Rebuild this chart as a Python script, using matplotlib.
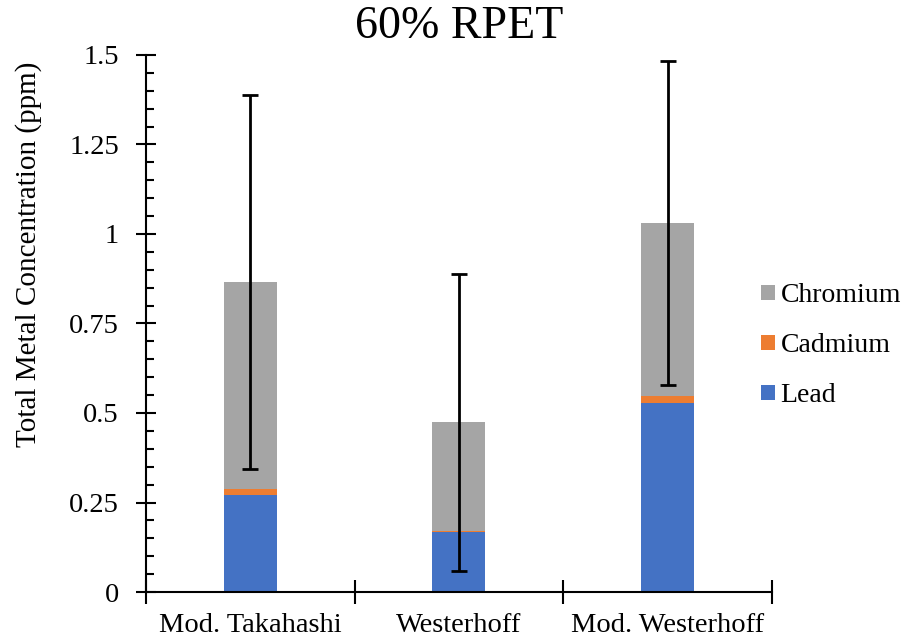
import matplotlib.pyplot as plt
import numpy as np

plt.rcParams['font.family'] = ['Liberation Serif', 'DejaVu Serif']

methods = ['Mod. Takahashi', 'Westerhoff', 'Mod. Westerhoff']
lead = [0.271, 0.167, 0.527]
cadmium = [0.016, 0.003, 0.021]
chromium = [0.578, 0.304, 0.482]
total_err = [0.522, 0.415, 0.453]

x = np.arange(len(methods))
width = 0.254

fig = plt.figure(figsize=(9.07, 6.44), dpi=100)
ax = fig.add_axes([0.161, 0.0807, 0.69, 0.834])

# stacked bars, lead at the bottom
b_lead = ax.bar(x, lead, width, color='#4472C4', label='Lead')
b_cd = ax.bar(x, cadmium, width, bottom=lead, color='#ED7D31', label='Cadmium')
base = np.array(lead) + np.array(cadmium)
b_cr = ax.bar(x, chromium, width, bottom=base, color='#A5A5A5', label='Chromium')

# error bars on the total
totals = base + np.array(chromium)
ax.errorbar(x, totals, yerr=total_err, fmt='none', ecolor='black',
            elinewidth=2, capsize=6, capthick=2)

ax.set_xlim(-0.5, 2.5)
ax.set_ylim(0, 1.5)
ax.set_yticks([0, 0.25, 0.5, 0.75, 1, 1.25, 1.5])
ax.set_yticklabels(['0', '0.25', '0.5', '0.75', '1', '1.25', '1.5'])
ax.set_yticks(np.arange(0, 1.5001, 0.05), minor=True)
ax.tick_params(axis='y', which='major', direction='inout', length=15, width=1.5,
               labelsize=20.5, pad=12)
ax.tick_params(axis='y', which='minor', direction='in', length=6, width=1.5)

# category separators as major ticks, names on minor ticks
ax.set_xticks([-0.5, 0.5, 1.5, 2.5])
ax.set_xticklabels([])
ax.set_xticks(x, minor=True)
ax.set_xticklabels(methods, minor=True)
ax.tick_params(axis='x', which='major', direction='inout', length=17, width=1.5)
ax.tick_params(axis='x', which='minor', length=0, labelsize=20.5, pad=15)

for side in ['top', 'right']:
    ax.spines[side].set_visible(False)
for side in ['left', 'bottom']:
    ax.spines[side].set_linewidth(1.5)

ax.set_ylabel('Total Metal Concentration (ppm)', fontsize=21)
ax.yaxis.set_label_coords(-0.167, 0.629)
ax.set_title('60% RPET', fontsize=33, pad=12)

fig.legend([b_cr, b_cd, b_lead], ['Chromium', 'Cadmium', 'Lead'],
           loc='center left', bbox_to_anchor=(0.839, 0.463), frameon=False,
           fontsize=20, handlelength=0.5, handleheight=0.5, handletextpad=0.2,
           labelspacing=0.9, borderpad=0, borderaxespad=0)

fig.savefig('out.png', dpi=100)
